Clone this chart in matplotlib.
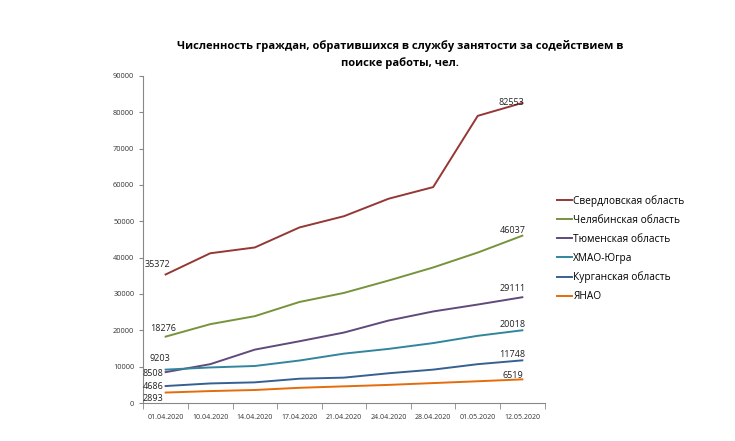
import matplotlib
matplotlib.use("Agg")
import matplotlib.pyplot as plt
from matplotlib.ticker import FixedLocator, MultipleLocator

plt.rcParams['font.family'] = ['Open Sans', 'DejaVu Sans']

dates = ["01.04.2020", "10.04.2020", "14.04.2020", "17.04.2020", "21.04.2020",
         "24.04.2020", "28.04.2020", "01.05.2020", "12.05.2020"]

sverdlovsk = [35372, 41200, 42800, 48300, 51400, 56200, 59400, 79000, 82553]
chelyabinsk = [18276, 21700, 23900, 27800, 30300, 33700, 37300, 41400, 46037]
tyumen = [8508, 10700, 14700, 17000, 19400, 22700, 25200, 27100, 29111]
khmao = [9203, 9800, 10200, 11700, 13600, 14900, 16500, 18500, 20018]
kurgan = [4686, 5400, 5700, 6700, 7000, 8200, 9200, 10700, 11748]
yanao = [2893, 3300, 3600, 4200, 4600, 5000, 5500, 6000, 6519]

series_names = ["Свердловская область", "Челябинская область", "Тюменская область",
                "ХМАО-Югра", "Курганская область", "ЯНАО"]
series_values = [sverdlovsk, chelyabinsk, tyumen, khmao, kurgan, yanao]
colors = ["#953735", "#77933C", "#604A7B", "#31859C", "#376092", "#E46C0A"]

# label offsets (points) for first and last values
first_offsets = [(-6, 7), (-2, 6), (-9, -1), (-4, 8), (-9, 0), (-9, -4)]
last_offsets = [(-8, 0), (-7, 4), (-7, 6), (-7, 4), (-7, 4), (-7, 3)]

title = "Численность граждан, обратившихся в службу занятости за содействием в\nпоиске работы, чел."

fig = plt.figure(figsize=(7.35, 4.41), dpi=100)
ax = fig.add_axes([0.195, 0.086, 0.546, 0.742])

x = list(range(len(dates)))
for name, vals, c, fo, lo in zip(series_names, series_values, colors, first_offsets, last_offsets):
    ax.plot(x, vals, color=c, lw=1.4, label=name)
    ax.annotate(str(vals[0]), (x[0], vals[0]), xytext=fo, textcoords="offset points",
                ha="center", va="center", fontsize=6.5, color="#222222")
    ax.annotate(str(vals[-1]), (x[-1], vals[-1]), xytext=lo, textcoords="offset points",
                ha="center", va="center", fontsize=6.5, color="#222222")

ax.set_xlim(-0.5, len(dates) - 0.5)
ax.set_ylim(0, 90000)
ax.yaxis.set_major_locator(MultipleLocator(10000))
ax.set_xticks(x)
ax.set_xticklabels(dates)
ax.xaxis.set_minor_locator(FixedLocator([i - 0.5 for i in range(len(dates) + 1)]))
ax.tick_params(axis="x", which="major", length=0, labelsize=5, pad=8, colors="#333333")
ax.tick_params(axis="x", which="minor", length=4, color="#888888")
ax.tick_params(axis="y", length=3, labelsize=5.3, color="#888888", labelcolor="#333333")
for s in ["top", "right"]:
    ax.spines[s].set_visible(False)
for s in ["left", "bottom"]:
    ax.spines[s].set_color("#888888")
    ax.spines[s].set_linewidth(0.8)

fig.text(0.544, 0.876, title, ha="center", va="center", fontsize=8, fontweight="bold",
         linespacing=1.6)

fig.legend(loc="upper left", bbox_to_anchor=(0.745, 0.578), frameon=False,
           fontsize=7.3, handlelength=1.5, handletextpad=0.15, labelspacing=0.78)

fig.savefig("out.png", dpi=100)
